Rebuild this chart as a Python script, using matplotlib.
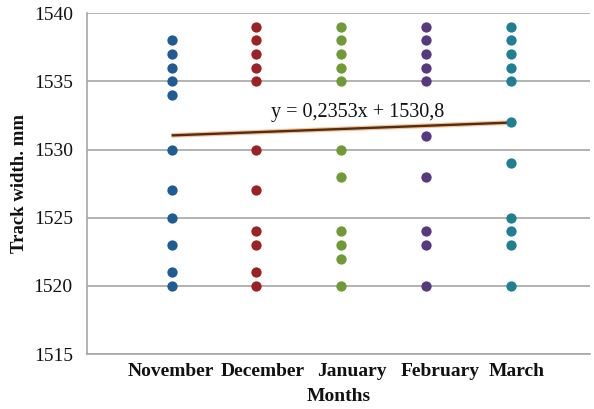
import matplotlib.pyplot as plt

# data
months = ['November', 'December', 'January', 'February', 'March']
colors = ['#1f5b94', '#9a2124', '#6f9a36', '#56397f', '#1f8094']
november = [1538, 1537, 1536, 1535, 1534, 1530, 1527, 1525, 1523, 1521, 1520]
december = [1539, 1538, 1537, 1536, 1535, 1530, 1527, 1524, 1523, 1521, 1520]
january = [1539, 1538, 1537, 1536, 1535, 1530, 1528, 1524, 1523, 1522, 1520]
february = [1539, 1538, 1537, 1536, 1535, 1531, 1528, 1524, 1523, 1520]
march = [1539, 1538, 1537, 1536, 1535, 1532, 1529, 1525, 1524, 1523, 1520]
slope = 0.2353
intercept = 1530.8

series = [november, december, january, february, march]

plt.rcParams['font.family'] = ['Liberation Serif', 'DejaVu Serif']

fig = plt.figure(figsize=(5.94, 4.09), dpi=100)
ax = fig.add_axes([0.146, 0.134, 0.847, 0.834])

for i, vals in enumerate(series):
    ax.scatter([i + 1] * len(vals), vals, s=55, color=colors[i], zorder=3, linewidths=0)

# linear trend
tx = [1, 5]
ty = [slope * x + intercept for x in tx]
ax.plot(tx, ty, color='#e08a3c', lw=3.4, alpha=0.5, zorder=2, solid_capstyle='butt')
ax.plot(tx, ty, color='#5a2a0c', lw=1.7, zorder=2, solid_capstyle='butt')
ax.text(3.19, 1532.7, 'y = 0,2353x + 1530,8', ha='center', va='center',
        fontsize=14.5, color='#111111')

ax.set_xlim(0, 5.93)
ax.set_ylim(1515, 1540)
ax.set_yticks([1515, 1520, 1525, 1530, 1535, 1540])
# the month labels in the original sit a little wider apart than the dots
label_pos = [0.99, 2.08, 3.13, 4.16, 5.07]
ax.set_xticks(label_pos)
ax.set_xticklabels(months, fontsize=14, fontweight='bold', color='#111111')
ax.tick_params(axis='y', labelsize=14, length=0, pad=10, labelcolor='#111111')
ax.tick_params(axis='x', length=0, pad=6)

ax.grid(axis='y', color='#a6a6a6', lw=1.2)
ax.set_axisbelow(True)
for s in ['top', 'right']:
    ax.spines[s].set_visible(False)
for s in ['left', 'bottom']:
    ax.spines[s].set_color('#a6a6a6')
    ax.spines[s].set_linewidth(1.2)

ax.set_xlabel('Months', fontsize=14, fontweight='bold', color='#111111', labelpad=6)
ax.set_ylabel('Track width. mm', fontsize=13.5, fontweight='bold', color='#111111', labelpad=4)

plt.savefig('out.png', dpi=100)
